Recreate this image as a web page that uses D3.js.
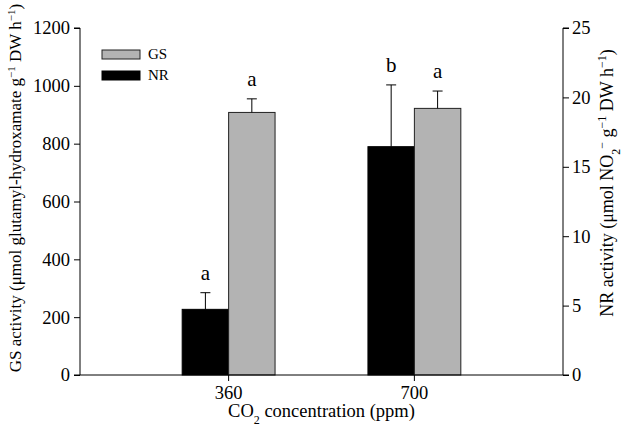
<!DOCTYPE html>
<html><head><meta charset="utf-8">
<script src="https://cdn.jsdelivr.net/npm/d3@7"></script>
<style>body{margin:0;background:#fff}svg{display:block}text{font-family:"Liberation Serif","Times New Roman",serif;fill:#000}</style>
</head><body>
<script>
const categories = ["360", "700"];
const gsMean = [908, 922];
const gsErr = [47, 60];
const nrMean = [4.73, 16.45];
const nrErr = [1.2, 4.45];
const gsLetters = ["a", "a"];
const nrLetters = ["a", "b"];
const leftTicks = [0, 200, 400, 600, 800, 1000, 1200];
const rightTicks = [0, 5, 10, 15, 20, 25];

const W = 622, H = 429;
const m = {left: 80, right: 59, top: 28, bottom: 54};
const svg = d3.select("body").append("svg").attr("width", W).attr("height", H);

const x = d3.scaleBand().domain(categories).range([m.left, W - m.right]).paddingInner(0).paddingOuter(0.3);
const yL = d3.scaleLinear().domain([0, 1200]).range([H - m.bottom, m.top]);
const yR = d3.scaleLinear().domain([0, 25]).range([H - m.bottom, m.top]);
const bw = x.bandwidth() * 0.25;
const cx = d => x(d) + x.bandwidth() / 2;

// bars
const g = svg.append("g");
categories.forEach((c, i) => {
  g.append("rect").attr("x", cx(c) - bw).attr("y", yR(nrMean[i]))
    .attr("width", bw).attr("height", yR(0) - yR(nrMean[i]))
    .attr("fill", "#000").attr("stroke", "#000").attr("stroke-width", 1);
  g.append("rect").attr("x", cx(c)).attr("y", yL(gsMean[i]))
    .attr("width", bw).attr("height", yL(0) - yL(gsMean[i]))
    .attr("fill", "#b3b3b3").attr("stroke", "#222").attr("stroke-width", 1);
  const nx = cx(c) - bw / 2, gx = cx(c) + bw / 2;
  const nTop = yR(nrMean[i] + nrErr[i]), gTop = yL(gsMean[i] + gsErr[i]);
  g.append("line").attr("x1", nx).attr("x2", nx).attr("y1", yR(nrMean[i])).attr("y2", nTop).attr("stroke", "#000");
  g.append("line").attr("x1", nx - 5).attr("x2", nx + 5).attr("y1", nTop).attr("y2", nTop).attr("stroke", "#000");
  g.append("line").attr("x1", gx).attr("x2", gx).attr("y1", yL(gsMean[i])).attr("y2", gTop).attr("stroke", "#000");
  g.append("line").attr("x1", gx - 5).attr("x2", gx + 5).attr("y1", gTop).attr("y2", gTop).attr("stroke", "#000");
  g.append("text").attr("x", nx).attr("y", nTop - 13).attr("text-anchor", "middle").attr("font-size", 21).text(nrLetters[i]);
  g.append("text").attr("x", gx).attr("y", gTop - 13).attr("text-anchor", "middle").attr("font-size", 21).text(gsLetters[i]);
});

// axes
const axL = svg.append("g").attr("transform", `translate(${m.left},0)`)
  .call(d3.axisLeft(yL).tickValues(leftTicks).tickSize(6).tickPadding(4).tickFormat(d3.format("d")));
const axR = svg.append("g").attr("transform", `translate(${W - m.right},0)`)
  .call(d3.axisRight(yR).tickValues(rightTicks).tickSize(6).tickPadding(3).tickFormat(d3.format("d")));
const axB = svg.append("g").attr("transform", `translate(0,${H - m.bottom})`)
  .call(d3.axisBottom(x).tickSize(6).tickPadding(5).tickSizeOuter(0));
[axL, axR, axB].forEach(a => {
  a.selectAll("path").attr("stroke", "#000");
  a.selectAll("line").attr("stroke", "#000");
  a.selectAll("text").attr("font-size", 18.5).attr("font-family", "Liberation Serif").attr("fill", "#000");
});
axL.select(".domain").attr("d", `M-6,${yL(1200)}H0V${yL(0)}`);
axR.select(".domain").attr("d", `M6,${yR(25)}H0V${yR(0)}`);
axB.select(".domain").attr("d", `M${m.left - 6},0H${W - m.right + 6}`);

// axis titles
const lt = svg.append("text").attr("transform", `translate(21,${188}) rotate(-90)`)
  .attr("text-anchor", "middle").attr("font-size", 17);
lt.append("tspan").text("GS activity (μmol glutamyl-hydroxamate g");
lt.append("tspan").attr("baseline-shift", "super").attr("font-size", 11).text("−1");
lt.append("tspan").text(" DW h");
lt.append("tspan").attr("baseline-shift", "super").attr("font-size", 11).text("−1");
lt.append("tspan").text(")");

const rt = svg.append("text").attr("transform", `translate(613,${183}) rotate(-90)`)
  .attr("text-anchor", "middle").attr("font-size", 18);
rt.append("tspan").text("NR activity (μmol NO");
rt.append("tspan").attr("baseline-shift", "sub").attr("font-size", 12).text("2");
rt.append("tspan").attr("baseline-shift", "super").attr("font-size", 12).text("−");
rt.append("tspan").text(" g");
rt.append("tspan").attr("baseline-shift", "super").attr("font-size", 12).text("−1");
rt.append("tspan").text(" DW h");
rt.append("tspan").attr("baseline-shift", "super").attr("font-size", 12).text("−1");
rt.append("tspan").text(")");

const bt = svg.append("text").attr("x", (m.left + W - m.right) / 2).attr("y", 417)
  .attr("text-anchor", "middle").attr("font-size", 18.5);
bt.append("tspan").text("CO");
bt.append("tspan").attr("baseline-shift", "sub").attr("font-size", 12).text("2");
bt.append("tspan").text(" concentration (ppm)");

// legend
const legend = [{name: "GS", fill: "#b3b3b3", stroke: "#222"}, {name: "NR", fill: "#000", stroke: "#000"}];
legend.forEach((d, i) => {
  svg.append("rect").attr("x", 102).attr("y", 50 + i * 21).attr("width", 38).attr("height", 9)
    .attr("fill", d.fill).attr("stroke", d.stroke);
  svg.append("text").attr("x", 148).attr("y", 59 + i * 21).attr("font-size", 15).text(d.name);
});
</script>
</body></html>
